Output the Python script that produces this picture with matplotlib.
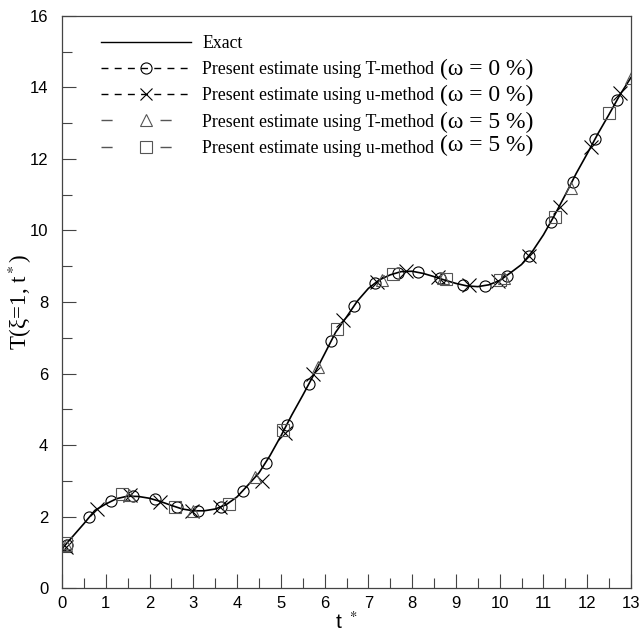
import matplotlib
matplotlib.use("Agg")
import matplotlib.pyplot as plt
from matplotlib.lines import Line2D
from matplotlib.ticker import MultipleLocator

# exact solution
t_exact = [0.0, 0.25, 0.5, 0.75, 1.0, 1.25, 1.5, 1.75, 2.0, 2.25, 2.5, 2.75,
           3.0, 3.25, 3.5, 3.75, 4.0, 4.25, 4.5, 4.75, 5.0, 5.25, 5.5, 5.75,
           6.0, 6.25, 6.5, 6.75, 7.0, 7.25, 7.5, 7.75, 8.0, 8.25, 8.5, 8.75,
           9.0, 9.25, 9.5, 9.75, 10.0, 10.25, 10.5, 10.75, 11.0, 11.25, 11.5,
           11.75, 12.0, 12.25, 12.5, 12.75, 13.0]
T_exact = [1.1, 1.45, 1.8, 2.17, 2.35, 2.5, 2.57, 2.56, 2.51, 2.42, 2.31, 2.21,
           2.16, 2.16, 2.21, 2.33, 2.55, 2.88, 3.22, 3.7, 4.25, 4.84, 5.39, 5.96,
           6.55, 7.15, 7.58, 8.03, 8.38, 8.62, 8.76, 8.85, 8.86, 8.8, 8.71, 8.61,
           8.52, 8.45, 8.43, 8.48, 8.6, 8.82, 9.05, 9.42, 9.88, 10.42, 11.0,
           11.6, 12.15, 12.72, 13.25, 13.8, 14.28]

# T-method, omega = 0 %
t_T0 = [0.11, 0.62, 1.12, 1.63, 2.12, 2.62, 3.11, 3.63, 4.13, 4.65, 5.13, 5.65,
        6.14, 6.66, 7.15, 7.67, 8.14, 8.64, 9.17, 9.66, 10.16, 10.68, 11.17,
        11.68, 12.18, 12.69]
T_T0 = [1.2, 1.99, 2.43, 2.58, 2.48, 2.26, 2.15, 2.26, 2.71, 3.5, 4.56, 5.72,
        6.91, 7.89, 8.52, 8.82, 8.83, 8.66, 8.47, 8.45, 8.72, 9.3, 10.24,
        11.36, 12.56, 13.65]

# u-method, omega = 0 %
t_u0 = [0.1, 0.81, 1.55, 2.24, 2.96, 3.61, 4.56, 5.09, 5.74, 6.43, 7.19, 7.87,
        8.58, 9.3, 9.97, 10.68, 11.37, 12.08, 12.75]
T_u0 = [1.15, 2.2, 2.6, 2.4, 2.15, 2.26, 3.0, 4.34, 6.0, 7.51, 8.57, 8.88,
        8.7, 8.47, 8.59, 9.3, 10.65, 12.33, 13.84]

# T-method, omega = 5 %
t_T5 = [0.1, 1.52, 2.99, 4.4, 5.86, 7.3, 8.71, 10.1, 11.63, 13.0]
T_T5 = [1.2, 2.6, 2.15, 3.1, 6.19, 8.62, 8.66, 8.68, 11.2, 14.26]

# u-method, omega = 5 %
t_u5 = [0.1, 1.36, 2.58, 3.82, 5.05, 6.29, 7.56, 8.78, 10.0, 11.26, 12.5]
T_u5 = [1.25, 2.63, 2.27, 2.35, 4.42, 7.24, 8.77, 8.63, 8.61, 10.39, 13.3]

labels = ['Exact',
          'Present estimate using T-method',
          'Present estimate using u-method',
          'Present estimate using T-method',
          'Present estimate using u-method']
noise_labels = ['', '(\u03c9 = 0 %)', '(\u03c9 = 0 %)', '(\u03c9 = 5 %)', '(\u03c9 = 5 %)']

plt.rcParams['font.family'] = ['Liberation Sans', 'DejaVu Sans']
plt.rcParams['mathtext.fontset'] = 'stix'

fig = plt.figure(figsize=(6.44, 6.37), dpi=100)
ax = fig.add_axes([0.0963, 0.0769, 0.8835, 0.898])

gray = '#555555'
ax.plot(t_exact, T_exact, color='black', lw=1.2)
ax.plot(t_T0, T_T0, ls='none', marker='o', ms=8, mfc='none', mec='black', mew=0.8)
ax.plot(t_u0, T_u0, ls='none', marker='x', ms=10, mec='black', mew=0.8)
ax.plot(t_T5, T_T5, ls='none', marker='^', ms=8, mfc='none', mec=gray, mew=0.8)
ax.plot(t_u5, T_u5, ls='none', marker='s', ms=9, mfc='none', mec=gray, mew=0.8)

ax.set_xlim(0, 13)
ax.set_ylim(0, 16)
ax.xaxis.set_major_locator(MultipleLocator(1))
ax.xaxis.set_minor_locator(MultipleLocator(0.5))
ax.yaxis.set_major_locator(MultipleLocator(2))
ax.yaxis.set_minor_locator(MultipleLocator(1))
ax.tick_params(which='major', direction='in', length=10, width=0.8, color='#444444',
               labelsize=12, pad=6)
ax.tick_params(axis='y', which='major', pad=10)
ax.tick_params(which='minor', direction='in', length=7, width=0.8, color='#444444')
for s in ax.spines.values():
    s.set_color('#444444')
    s.set_linewidth(0.9)

ax.set_xlabel('t $^*$', fontsize=15, labelpad=0)
ax.set_ylabel('T(\u03be=1, t$^*$)', fontsize=16.5, family='Liberation Serif')
ax.yaxis.set_label_coords(-0.05, 0.5)

handles = [
    Line2D([], [], color='black', lw=1.0),
    Line2D([], [], color='black', lw=1.0, ls=(0, (5, 4.5)), marker='o', ms=8,
           mfc='none', mew=0.8),
    Line2D([], [], color='black', lw=1.0, ls=(0, (5, 4.5)), marker='x', ms=9, mew=0.8),
    Line2D([], [], color=gray, lw=1.0, ls=(0, (8, 34.5)), marker='^', ms=8,
           mfc='none', mew=0.8),
    Line2D([], [], color=gray, lw=1.0, ls=(0, (8, 34.5)), marker='s', ms=8,
           mfc='none', mew=0.8),
]
leg = ax.legend(handles, labels, loc='upper left', bbox_to_anchor=(0.04, 0.995),
                frameon=False, handlelength=5.1, handletextpad=0.6,
                labelspacing=0.52, prop={'family': 'Liberation Serif', 'size': 12.8})

# the bracketed noise level sits a little larger, at a fixed column
fig.canvas.draw()
renderer = fig.canvas.get_renderer()
for i, (txt, extra) in enumerate(zip(leg.get_texts(), noise_labels)):
    if not extra:
        continue
    bb = txt.get_window_extent(renderer)
    ymid = (bb.y0 + bb.y1) / 2
    if i == 4:
        ymid += 3
    fig.text(440 / 644, ymid / fig.bbox.height, extra, ha='left', va='center',
             family='Liberation Serif', fontsize=17)

fig.savefig('out.png', dpi=100)
